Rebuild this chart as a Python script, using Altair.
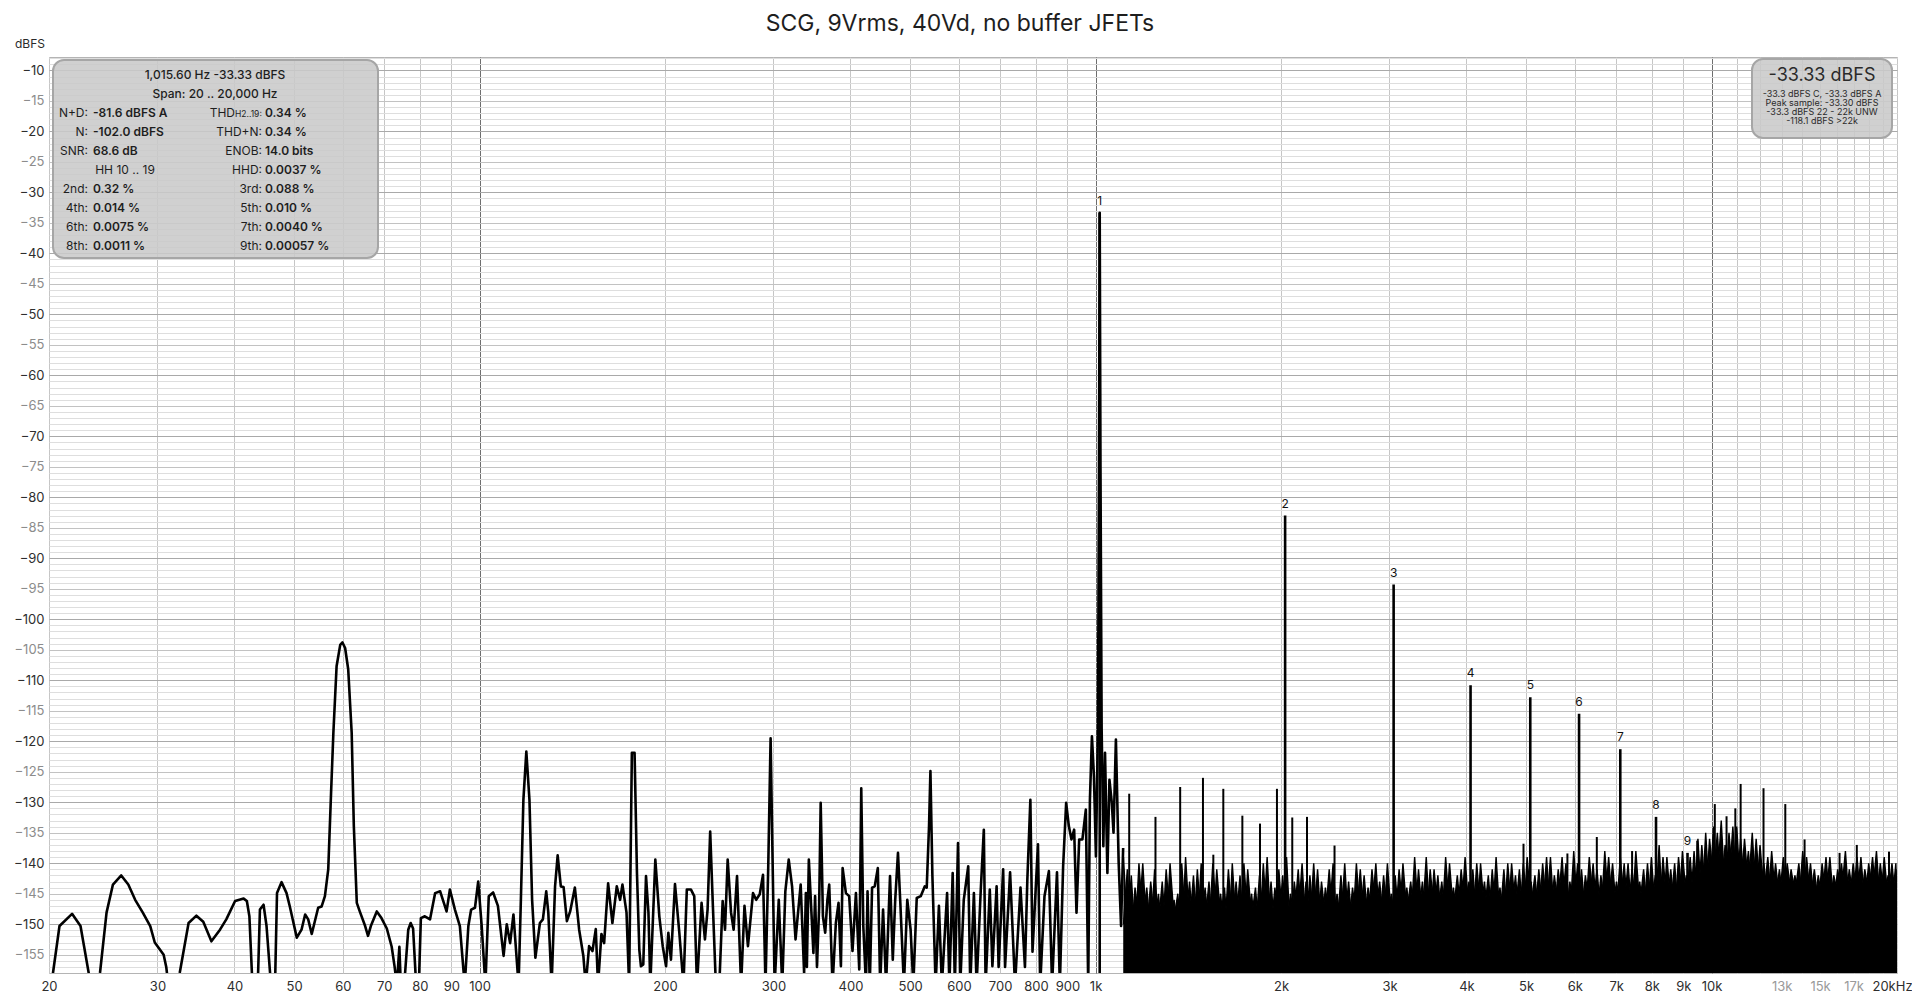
import altair as alt
import pandas as pd

# ---------------- data ----------------
lf_freq = [20.0, 20.3, 20.8, 21.8, 22.5, 22.8, 23.2, 23.5, 24.2, 24.8, 25.4, 26.2, 26.9, 27.6, 28.4, 29.2, 29.7,
           30.7, 31.0, 31.5, 32.6, 33.7, 34.7, 35.6, 36.7, 37.9, 38.8, 40.1, 41.4, 41.9, 42.3, 42.7, 43.0, 43.7,
           44.0, 44.6, 45.1, 45.7, 46.0, 46.6, 46.9, 47.7, 48.6, 49.2, 50.5, 51.4, 52.1, 52.7, 53.4, 54.7, 55.4,
           56.1, 56.8, 57.4, 57.9, 58.6, 59.4, 59.9, 60.5, 61.2, 62.0, 62.5, 63.2, 63.9, 65.2, 65.9, 66.6, 68.1,
           69.3, 70.7, 72.0, 72.8, 73.4, 74.1, 74.5, 75.7, 76.6, 77.3, 78.0, 78.9, 79.8, 80.3, 81.5, 83.1, 84.7,
           86.3, 87.9, 88.4, 89.5, 91.2, 92.9, 94.6, 95.9, 96.9, 98.3, 99.5, 100.8, 102.2, 103.5, 105.2, 107.1,
           109.4, 110.7, 112.1, 113.5, 115.7, 116.7, 117.8, 119.1, 120.5, 121.7, 123.2, 125.3, 126.7, 128.3,
           129.3, 130.9, 132.6, 133.9, 135.5, 136.9, 138.6, 140.3, 142.8, 145.1, 147.4, 148.7, 150.6, 152.5,
           154.4, 155.7, 157.7, 159.3, 161.7, 164.3, 167.0, 169.1, 170.6, 173.2, 174.9, 176.7, 178.5, 180.1,
           181.7, 182.8, 184.4, 186.3, 188.0, 189.3, 192.9, 195.8, 198.3, 200.8, 202.5, 204.5, 207.6, 211.0,
           214.3, 217.0, 220.3, 223.1, 225.4, 229.3, 232.2, 234.5, 236.8, 239.2, 241.9, 245.0, 248.1, 250.3,
           252.8, 256.0, 258.5, 261.8, 265.8, 269.2, 272.7, 277.9, 281.2, 285.0, 288.5, 291.2, 294.2, 296.8,
           298.5, 301.3, 306.0, 310.0, 313.6, 317.6, 321.6, 325.8, 332.1, 336.4, 338.6, 339.9, 342.4, 348.3,
           350.5, 353.0, 355.8, 357.9, 360.9, 364.0, 367.0, 369.5, 374.1, 378.8, 382.6, 386.0, 388.5, 393.3,
           398.1, 403.1, 408.3, 413.4, 416.5, 419.7, 423.9, 426.4, 430.0, 433.7, 438.0, 443.1, 447.0, 451.9,
           457.0, 463.8, 468.6, 472.9, 477.8, 482.0, 488.5, 494.7, 500.9, 506.0, 512.5, 520.2, 528.0, 532.0,
           536.6, 539.4, 543.4, 550.0, 556.8, 563.0, 574.1, 579.0, 586.2, 591.0, 598.0, 603.0, 611.0, 621.3,
           626.0, 634.6, 641.0, 651.1, 658.6, 663.0, 673.4, 680.0, 690.8, 696.0, 707.9, 713.0, 726.5, 740.0,
           755.3, 768.0, 774.9, 783.7, 790.0, 806.3, 813.0, 826.2, 839.9, 850.0, 865.7, 875.0, 885.8, 895.9,
           904.9, 913.9, 923.1, 931.2, 940.6, 952.0, 964.3, 972.9, 979.1, 986.5, 993.9, 1001.4, 1009.0, 1013.0,
           1015.6, 1018.5, 1023.0, 1029.5, 1036.0, 1045.2, 1053.2, 1062.6, 1069.4, 1079.0, 1090.2, 1100.0, 1108.6]
lf_db = [-163, -158, -150.3, -148.3, -150.3, -153.6, -158, -163, -158, -148.1, -143.5, -142.0, -143.5, -146.0,
         -148.1, -150.3, -153.0, -155.0, -157, -163, -158, -149.8, -148.6, -149.6, -152.8, -150.9, -149.2, -146.2,
         -145.8, -146.2, -148.7, -158, -163, -158, -147.6, -146.8, -150.3, -158, -163, -158, -144.9, -143.1,
         -144.9, -147.1, -152.2, -150.9, -148.4, -149.2, -151.6, -147.3, -147.1, -145.4, -141.0, -128.5, -118.6,
         -107.7, -104.2, -103.8, -104.7, -108.2, -118.6, -133.9, -146.5, -147.9, -150.3, -151.9, -150.3, -147.9,
         -149.0, -150.7, -153.7, -157, -160, -153.7, -160, -158, -150.9, -149.8, -150.7, -160, -158, -149.0,
         -148.7, -149.2, -144.9, -144.6, -147.1, -147.9, -144.3, -147.6, -150.3, -160, -150.3, -147.6, -147.3,
         -143.0, -150.3, -160, -145.4, -144.8, -147.0, -155.2, -150.0, -153.1, -148.4, -160, -146.0, -129.6,
         -121.7, -129.6, -146.0, -155.5, -149.8, -149.2, -144.6, -148.1, -160, -143.8, -138.7, -143.8, -143.9,
         -149.5, -147.9, -144.0, -150.9, -155.2, -160, -153.6, -154.4, -150.8, -160, -151.6, -153.1, -143.3,
         -149.8, -143.8, -146.0, -143.5, -148.1, -160, -121.9, -121.9, -141.6, -154.2, -156.9, -156.6, -142.1,
         -148.1, -160, -139.4, -148.7, -153.6, -156.9, -151.4, -155.8, -143.4, -151.4, -160, -144.3, -144.3,
         -145.4, -160, -146.5, -152.5, -147.6, -134.8, -147.0, -160, -160, -146.2, -150.9, -139.4, -148.1,
         -150.9, -142.1, -160, -147.0, -153.6, -144.9, -146.0, -145.1, -141.9, -160, -140.5, -119.5, -135.0,
         -160, -146.0, -160, -144.6, -139.4, -143.8, -152.5, -143.5, -158, -144.9, -157, -139.4, -154.7, -145.4,
         -157, -147.3, -130.1, -148.7, -151.4, -146.0, -143.5, -160, -149.8, -146.5, -156.9, -140.8, -144.9,
         -145.4, -154.4, -144.9, -157.4, -127.7, -150.3, -160, -144.6, -160, -144.0, -143.8, -140.8, -160,
         -147.6, -160, -142.1, -155.8, -146.0, -138.3, -146.5, -160, -146.0, -150.9, -160, -145.7, -145.4,
         -143.8, -144.0, -133.9, -124.9, -142.1, -160, -147.0, -160, -144.9, -160, -141.6, -160, -136.7, -160,
         -146.0, -140.5, -160, -144.9, -160, -144.3, -134.5, -160, -144.3, -156.9, -143.8, -157, -141.0, -157,
         -141.5, -160, -144.0, -157, -142.7, -129.6, -154.5, -136.9, -160, -145.4, -141.3, -160, -141.5, -160,
         -140.5, -130.1, -133.9, -136.1, -134.5, -148.1, -136.1, -136.1, -131.2, -160, -129.6, -119.2, -125.7,
         -138.9, -117.5, -75, -33.33, -75, -118, -137.2, -121.9, -141.6, -126.3, -130.1, -135.0, -119.7, -139.9,
         -150.3, -137.5]

noise_freq = [1110, 1126, 1143, 1159, 1176, 1193, 1211, 1229, 1247, 1265,
              1283, 1302, 1321, 1341, 1360, 1380, 1400, 1421, 1442, 1463,
              1484, 1506, 1528, 1550, 1573, 1596, 1619, 1643, 1667, 1691,
              1716, 1741, 1766, 1792, 1818, 1845, 1872, 1899, 1927, 1955,
              1984, 2013, 2042, 2072, 2102, 2133, 2164, 2196, 2228, 2260,
              2293, 2327, 2361, 2395, 2430, 2466, 2502, 2538, 2575, 2613,
              2651, 2690, 2729, 2769, 2810, 2851, 2892, 2935, 2977, 3021,
              3065, 3110, 3155, 3201, 3248, 3296, 3344, 3393, 3442, 3493,
              3544, 3595, 3648, 3701, 3755, 3810, 3866, 3922, 3980, 4038,
              4097, 4157, 4217, 4279, 4341, 4405, 4469, 4534, 4601, 4668,
              4736, 4805, 4876, 4947, 5019, 5093, 5167, 5243, 5319, 5397,
              5476, 5556, 5637, 5719, 5803, 5888, 5974, 6061, 6150, 6240,
              6331, 6423, 6517, 6612, 6709, 6807, 6907, 7008, 7110, 7214,
              7319, 7426, 7535, 7645, 7757, 7870, 7985, 8102, 8220, 8340,
              8462, 8586, 8711, 8838, 8968, 9099, 9232, 9367, 9503, 9642,
              9783, 9926, 10071, 10218, 10368, 10519, 10673, 10829, 10987, 11148,
              11311, 11476, 11643, 11814, 11986, 12161, 12339, 12519, 12702, 12888,
              13076, 13267, 13461, 13658, 13857, 14060, 14265, 14474, 14685, 14900,
              15117, 15338, 15562, 15790, 16020, 16254, 16492, 16733, 16977, 17225,
              17477, 17732, 17991, 18254, 18521, 18791, 19066, 19344, 19627, 19913, 20000]
noise_db = [-139, -151, -142, -153, -140, -149, -144, -152, -141, -150,
            -143, -152, -140, -149, -145, -153, -139, -150, -142, -152,
            -140, -150, -143, -152, -141, -149, -144, -153, -140, -150,
            -142, -152, -141, -149, -144, -152, -140, -150, -143, -152,
            -141, -150, -139, -152, -143, -149, -140, -151, -142, -150,
            -141, -151, -144, -149, -140, -151, -142, -150, -143, -151,
            -140, -149, -142, -150, -141, -148, -143, -150, -140, -149,
            -142, -150, -140, -148, -143, -150, -141, -149, -139, -150,
            -141, -148, -143, -150, -140, -148, -142, -149, -139, -148,
            -141, -150, -140, -148, -142, -150, -139, -149, -141, -150,
            -140, -148, -141, -150, -139, -147, -142, -149, -140, -148,
            -139, -149, -141, -147, -140, -149, -138, -148, -141, -149,
            -139, -147, -141, -149, -138, -147, -140, -148, -139, -147,
            -140, -149, -138, -147, -141, -149, -139, -148, -137, -149,
            -139, -147, -140, -149, -138, -146, -139, -148, -136, -147,
            -135, -146, -134, -143, -133, -145, -135, -143, -134, -145,
            -136, -144, -135, -146, -137, -145, -139, -147, -140, -146,
            -139, -147, -141, -145, -140, -147, -139, -146, -141, -147,
            -140, -146, -139, -147, -141, -145, -138, -147, -140, -146,
            -139, -147, -140, -145, -138, -147, -139, -146, -140, -147, -141]
noise2_db = [-150, -141, -152, -144, -149, -140, -151, -143, -150, -145,
             -152, -141, -149, -146, -151, -140, -150, -143, -152, -141,
             -150, -144, -151, -140, -149, -145, -152, -141, -150, -143,
             -151, -140, -149, -145, -152, -142, -150, -139, -151, -144,
             -150, -142, -151, -145, -149, -141, -151, -143, -150, -140,
             -151, -143, -149, -141, -150, -145, -150, -140, -151, -144,
             -149, -141, -150, -144, -148, -140, -150, -142, -149, -145,
             -150, -141, -148, -144, -150, -139, -149, -143, -150, -141,
             -148, -142, -150, -139, -148, -144, -149, -141, -148, -143,
             -150, -140, -148, -143, -150, -141, -149, -144, -150, -140,
             -148, -142, -150, -140, -147, -143, -149, -141, -148, -139,
             -149, -142, -147, -139, -149, -143, -148, -140, -149, -142,
             -147, -140, -149, -142, -147, -139, -148, -143, -147, -140,
             -149, -141, -147, -143, -149, -140, -148, -142, -149, -139,
             -147, -141, -149, -139, -146, -142, -148, -138, -147, -137,
             -146, -136, -143, -135, -145, -137, -143, -134, -145, -136,
             -144, -138, -146, -136, -145, -140, -147, -138, -146, -141,
             -147, -140, -145, -142, -147, -138, -146, -140, -147, -142,
             -146, -139, -147, -142, -145, -140, -147, -141, -146, -139,
             -147, -141, -145, -139, -147, -140, -146, -142, -147, -140, -146]

spur_freq = [1134, 1251, 1372, 1494, 1553, 1612, 1731, 1849, 1970, 2086, 2204, 2443, 4951, 5834, 6512, 7430,
             9478, 10122, 10576, 10929, 11148, 12143, 13173, 14158, 16136, 17210, 19410]
spur_db = [-128.6, -132.4, -127.5, -126.0, -138.6, -127.8, -132.2, -133.5, -127.8, -132.5, -132.4, -137.1,
           -136.8, -138.4, -135.7, -138.0, -136.3, -130.3, -132.3, -131.0, -127.0, -127.7, -130.3, -136.1,
           -138.3, -137.0, -138.1]

harm_freq = [1015.6, 2031, 3047, 4062, 5078, 6094, 7109, 8125, 9140]
harm_db = [-33.33, -83.0, -94.3, -110.8, -112.8, -115.5, -121.3, -132.4, -138.3]
harm_label = ["1", "2", "3", "4", "5", "6", "7", "8", "9"]

x_ticks = [20, 30, 40, 50, 60, 70, 80, 90, 100, 200, 300, 400, 500, 600, 700, 800, 900, 1000, 2000, 3000,
           4000, 5000, 6000, 7000, 8000, 9000, 10000, 11000, 12000, 13000, 14000, 15000, 16000, 17000, 18000,
           19000, 20000]
y_ticks = list(range(-157, -7))

title_text = "SCG, 9Vrms, 40Vd, no buffer JFETs"
box_head = "1,015.60 Hz  -33.33 dBFS"
box_span = "Span: 20 .. 20,000 Hz"
left_keys = ["N+D:", "N:", "SNR:", "", "2nd:", "4th:", "6th:", "8th:"]
left_vals = ["-81.6 dBFS A", "-102.0 dBFS", " 68.6 dB", "", "0.32 %", "0.014 %", "0.0075 %", "0.0011 %"]
right_keys = ["", "THD+N:", "ENOB:", "HHD:", "3rd:", "5th:", "7th:", "9th:"]
right_vals = ["0.34 %", "0.34 %", "14.0 bits", "0.0037 %", "0.088 %", "0.010 %", "0.0040 %", "0.00057 %"]
rbox_big = "-33.33 dBFS"
rbox_lines = ["-33.3 dBFS C, -33.3 dBFS A", "Peak sample: -33.30 dBFS", "-33.3 dBFS 22 - 22k UNW",
              "-118.1 dBFS >22k"]

# ---------------- chart ----------------
FONT = "Inter"
W, H = 1848, 916
xs = alt.Scale(type="log", domain=[20, 20000], nice=False)
ys = alt.Scale(domain=[-158, -7.8], nice=False, zero=False)

x_label_expr = ("datum.value >= 20000 ? '20kHz' : ((datum.value == 13000 || datum.value == 15000 || "
                "datum.value == 17000 || datum.value <= 10000) ? (datum.value >= 1000 ? "
                "(datum.value / 1000) + 'k' : '' + datum.value) : '')")

x_axis = alt.Axis(values=x_ticks, labelExpr=x_label_expr, title=None, ticks=False, domain=False,
                  labelFlush=False, labelOverlap=False, labelPadding=7, labelFontSize=13, labelFont=FONT,
                  labelOffset={"condition": {"test": "datum.value == 20000", "value": -5}, "value": 0},
                  labelColor={"condition": {"test": "datum.value == 13000 || datum.value == 15000 || datum.value == 17000",
                                            "value": "#9a9a9a"}, "value": "#2e2e2e"},
                  gridColor={"condition": {"test": "datum.value == 100 || datum.value == 1000 || datum.value == 10000",
                                           "value": "#6e6e6e"}, "value": "#c6c6c6"},
                  gridWidth=1)
y_axis = alt.Axis(values=y_ticks, labelExpr="datum.value % 5 == 0 ? datum.label : ''", title=None, ticks=False,
                  domain=False, labelOverlap=False, labelPadding=5, labelFontSize=13, labelFont=FONT,
                  labelColor={"condition": {"test": "datum.value % 10 == 0", "value": "#2e2e2e"},
                              "value": "#8c8c8c"},
                  gridColor={"condition": [{"test": "datum.value % 10 == 0", "value": "#a9a9a9"},
                                           {"test": "datum.value % 5 == 0", "value": "#c2c2c2"}],
                             "value": "#dedede"},
                  gridWidth=1)

lf_df = pd.DataFrame({"f": lf_freq, "db": lf_db})
noise_df = pd.DataFrame({"f": noise_freq, "db": noise_db})
noise2_df = pd.DataFrame({"f": noise_freq, "db": noise2_db})
spur_df = pd.DataFrame({"f": spur_freq, "db": spur_db})
harm_df = pd.DataFrame({"f": harm_freq, "db": harm_db, "lab": harm_label})

X = alt.X("f:Q", scale=xs, axis=x_axis)
Y = alt.Y("db:Q", scale=ys, axis=y_axis)

lf_line = alt.Chart(lf_df).mark_line(color="black", strokeWidth=2.6, clip=True, strokeJoin="round").encode(x=X, y=Y)


def noise_layers(df):
    area = alt.Chart(df).mark_area(color="black", clip=True, interpolate="linear").encode(
        x=X, y=Y, y2=alt.datum(-158))
    line = alt.Chart(df).mark_line(color="black", strokeWidth=1.4, clip=True).encode(x=X, y=Y)
    return [area, line]


spur_rules = alt.Chart(spur_df).mark_rule(color="black", strokeWidth=2, clip=True).encode(
    x=X, y=Y, y2=alt.datum(-158))
harm_rules = alt.Chart(harm_df).mark_rule(color="black", strokeWidth=2.6, clip=True).encode(
    x=X, y=Y, y2=alt.datum(-158))
harm_text = alt.Chart(harm_df).mark_text(font=FONT, fontSize=12, color="#111", dy=-12, baseline="middle").encode(
    x=X, y=Y, text="lab:N")

one = pd.DataFrame({"k": [0]})


def txt(s, x, y, size=12, weight="normal", align="left", color="#1e1e1e", baseline="middle"):
    return alt.Chart(one).mark_text(text=s, font=FONT, fontSize=size, fontWeight=weight, align=align,
                                    baseline=baseline, color=color).encode(x=alt.value(x), y=alt.value(y))


def box(x1, x2, y1, y2):
    return alt.Chart(one).mark_rect(cornerRadius=11, fill="#c9c9c9", fillOpacity=0.88, stroke="#a6a6a6",
                                    strokeWidth=2).encode(x=alt.value(x1), x2=alt.value(x2),
                                                          y=alt.value(y1), y2=alt.value(y2))


layers = [lf_line] + noise_layers(noise_df) + noise_layers(noise2_df) + [spur_rules, harm_rules, harm_text]

# left info box
layers.append(box(4, 329, 3, 201))
layers.append(txt(box_head, 166, 18, weight=500, align="center"))
layers.append(txt(box_span, 166, 37, weight=500, align="center"))
for i in range(8):
    yy = 56 + 19 * i
    if left_keys[i]:
        layers.append(txt(left_keys[i], 39, yy, align="right"))
    if left_vals[i]:
        layers.append(txt(left_vals[i], 44, yy, weight=600))
    if right_keys[i]:
        layers.append(txt(right_keys[i], 213, yy, align="right"))
    layers.append(txt(right_vals[i], 216, yy, weight=600))
layers.append(txt("HH 10 .. 19", 76, 56 + 19 * 3, align="center"))
layers.append(txt("THD", 186, 56, align="right"))
layers.append(txt("H2..19:", 186, 57, size=8.5, align="left"))

# right level box
layers.append(box(1703, 1843, 2, 81))
layers.append(txt(rbox_big, 1773, 19, size=18, align="center", color="#2a2a2a"))
for i, s in enumerate(rbox_lines):
    layers.append(txt(s, 1773, 37 + 9 * i, size=9, align="center", color="#2a2a2a"))

# title and axis unit
layers.append(txt(title_text, 911, -33, size=23, align="center", color="#1e1e1e"))
layers.append(txt("dBFS", -19, -13, size=12, align="center", color="#2a2a2a"))

chart = alt.layer(*layers).properties(
    width=W, height=H,
    autosize=alt.AutoSizeParams(type="none"),
    padding={"left": 41, "top": 49, "right": 15, "bottom": 20},
).configure_view(stroke="#b4b4b4", strokeWidth=1)

chart.save("out.html", embed_options={"renderer": "svg", "actions": False})
